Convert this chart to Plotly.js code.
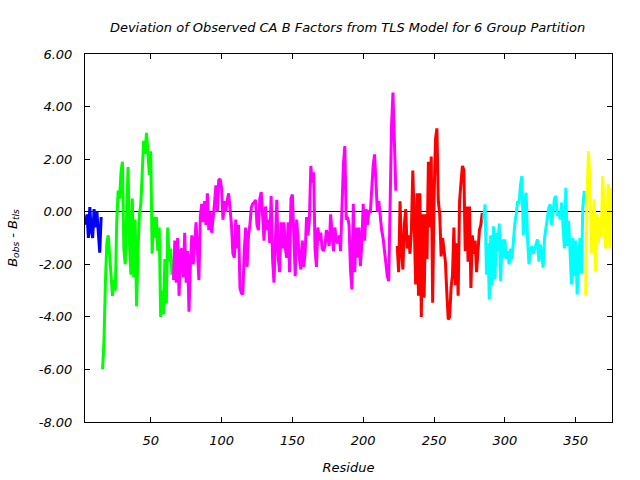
<!DOCTYPE html>
<html>
<head>
<meta charset="utf-8">
<script src="https://cdn.plot.ly/plotly-3.0.1.min.js"></script>
<style>html,body{margin:0;padding:0;background:#fff;}</style>
</head>
<body>
<div id="chart" style="width:640px;height:480px;"></div>
<script>
// Residue start of each TLS group
const blueStart = 4;
const greenStart = 16;
const magentaStart = 66;
const redStart = 224;
const cyanStart = 285;
const yellowStart = 357;

// B_obs - B_tls per residue, by group
const blueVals = [-0.5, -0.1, -1.0, 0.18, -0.7, -1.0, 0.1, -0.6, 0.0, -0.7, -1.56, -0.2];
const greenVals = [-6.0, -4.9, -2.7, -1.2, -0.9, -1.6, -2.3, -3.2, -2.6, -3.0, -0.4, 0.8, 0.5, 1.5, 1.9, -1.4, -2.0, 0.3, 1.7, -1.2, -2.4, 0.5, -2.5, -0.3, -3.6, -1.5, -0.1, 0.3, 1.4, 2.7, 2.2, 3.0, 2.3, 1.4, 2.3, -1.6, -0.2, -1.0, -0.2, -1.5, -0.6, -4.0, -3.0, -3.9, -1.8, -3.5, -0.6, -1.9, -1.4, -2.4];
const magentaVals = [-2.6, -1.1, -2.7, -1.0, -3.2, -1.5, -1.4, -2.5, -0.8, -2.7, -1.5, -3.8, -2.0, -0.9, -2.0, -1.3, -0.4, -1.5, -2.6, -0.2, 0.3, -0.4, 0.4, -0.5, 0.7, -0.7, 0.0, -0.8, -0.3, 0.3, 1.0, 0.0, 1.2,
  1.25, 0.9, -0.3, 0.4, 0.0, 0.45, 0.7, 0.1, -0.5, -1.6, -1.75, -0.3, -1.4, -0.5, -2.9, -3.1, -3.15, -1.5, -0.6, -2.1, -0.9, -0.5, 0.15, 0.3, 0.35, 0.45, -0.5, -0.7, 0.5, 0.75, -0.3, -1.1, 0.2, -0.7, -0.3, -1.2, 0.6, -1.8, -2.7, -0.8, 0.45, -1.75, -2.3, -0.4, -1.4, -0.4, -1.4, -1.75, -0.4, -2.3, 0.5, 0.65, -1.2, -2.45, -0.3, -1.3, -1.8, -2.2, -1.1, -2.1, -1.55, -0.2, -0.9, -0.3, 1.74, 1.1, 1.5, -1.45, -2.1, -0.6, -1.1, -0.8, -1.4, -1.5, -1.3, -0.7, -1.1, -1.3, -0.1, -0.7, -1.5, -0.6, -1.1, -1.2, -0.9, -1.5, 0.6, 1.8, 2.5, -0.3, -0.2, -0.5, -2.2, -2.96, 0.3, -2.3, -0.6, -1.75, -0.6, -2.07, -1.2, 0.3, -1.1, 0.1, -0.5, 0.05, -0.05, 0.98, 1.74, 2.18, 0.8, 0.0, 0.4, -0.2, -0.7, -1.0, -1.5, -1.9, -2.45, -2.64, 0.4, 3.3, 4.53, 2.44, 0.8];
const redVals = [-1.3, -2.3, 0.4, -1.5, -2.2, -0.5, 0.1, -1.4, -0.9, -1.6, -0.7, 1.57, -0.4, -2.77, 0.7, -3.2, 0.7, -4.0, -0.1, -3.27, -0.1, -1.8, 1.9, -0.6, 2.1, -3.46, 0.5, 2.75, 3.17, 0.4, -0.1, -1.7, -1.0, -1.6, -1.9, -3.08, -4.1, -4.0, -2.9, -2.4, -0.6, -2.8, -1.2, -3.2, 0.4, 1.1, 1.74, 1.6, -1.5, 0.2, -1.9, 0.2, -2.9, -0.9, -1.6, -1.1, -2.3, -1.5, -0.7, -0.5, -0.05];
const cyanVals = [-0.3, 0.28, -2.4, -1.2, -3.34, -0.9, -2.8, -0.55, -2.58, -0.8, -1.5, -0.45, -2.64, -1.05, -1.75, -1.05, -1.8, -1.5, -2.0, -1.4, -1.8, -1.0, -0.45, -0.1, 0.4, 0.3, 1.04, 1.36, -0.9, 0.47, 0.72, -1.05, -2.0, -1.5, -1.3, -1.6, -1.4, -1.2, -1.05, -1.9, -1.25, -1.6, -2.13, -1.0, -0.55, -0.23, 0.15, 0.28, -0.5, 0.0, 0.5, 0.6, -0.17, 0.0, -0.3, 0.35, -0.35, -1.4, 0.91, -1.3, -0.35, -1.4, -2.77, -1.0, -2.45, -1.1, -3.15, -1.9, -1.0, -2.35, 0.15, 0.79];
const yellowVals = [-3.2, 0.6, 2.3, 1.3, -1.6, -0.8, 0.47, -2.25, -0.1, -1.2, -0.2, -1.0, 1.36, 0.3, -1.4, -0.5, 1.04, -1.4, 0.9];

const xTicks = [50, 100, 150, 200, 250, 300, 350];
const yTicks = [-8, -6, -4, -2, 0, 2, 4, 6];
const yTickText = ['-8.00', '-6.00', '-4.00', '-2.00', '0.00', '2.00', '4.00', '6.00'];

const groups = [
  {start: blueStart, vals: blueVals, color: '#0000ff'},
  {start: greenStart, vals: greenVals, color: '#00ff00'},
  {start: magentaStart, vals: magentaVals, color: '#ff00ff'},
  {start: redStart, vals: redVals, color: '#ff0000'},
  {start: cyanStart, vals: cyanVals, color: '#00ffff'},
  {start: yellowStart, vals: yellowVals, color: '#ffff00'}
];

const FONT = 'DejaVu Sans, sans-serif';

const traces = groups.map(g => ({
  type: 'scatter',
  mode: 'lines',
  x: g.vals.map((_, i) => g.start + i),
  y: g.vals,
  line: {color: g.color, width: 3},
  hoverinfo: 'skip',
  showlegend: false
}));

const layout = {
  width: 640,
  height: 480,
  margin: {l: 85, r: 28, t: 54, b: 58},
  paper_bgcolor: '#ffffff',
  plot_bgcolor: '#ffffff',
  font: {family: FONT, size: 13, color: '#000', style: 'italic'},
  title: {
    text: 'Deviation of Observed CA B Factors from TLS Model for 6 Group Partition',
    font: {family: FONT, size: 13, color: '#000', style: 'italic'},
    x: 0.543, xanchor: 'center', y: 0.943, yanchor: 'middle'
  },
  showlegend: false,
  xaxis: {
    range: [3.6, 375.6],
    tickvals: xTicks,
    ticks: 'inside', ticklen: 5, tickcolor: '#000',
    showline: true, linecolor: '#000', linewidth: 1, mirror: 'ticks',
    showgrid: false, zeroline: false,
    ticklabelstandoff: 6,
    tickfont: {family: FONT, size: 13, style: 'italic'},
    title: {text: 'Residue', font: {family: FONT, size: 13, style: 'italic'}, standoff: 16}
  },
  yaxis: {
    range: [-8, 6],
    tickvals: yTicks, ticktext: yTickText,
    ticks: 'inside', ticklen: 5, tickcolor: '#000',
    showline: true, linecolor: '#000', linewidth: 1, mirror: 'ticks',
    showgrid: false, zeroline: true, zerolinecolor: '#000', zerolinewidth: 1,
    ticklabelstandoff: 9,
    tickfont: {family: FONT, size: 13, style: 'italic'},
    title: {text: 'B<sub>obs</sub> - B<sub>tls</sub>', font: {family: FONT, size: 13, style: 'italic'}, standoff: 18}
  }
};

Plotly.newPlot('chart', traces, layout, {displayModeBar: false, staticPlot: true});
</script>
</body>
</html>
